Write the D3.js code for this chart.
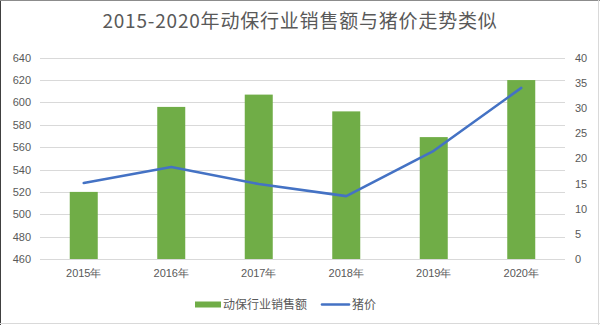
<!DOCTYPE html>
<html>
<head>
<meta charset="utf-8">
<script src="https://cdn.jsdelivr.net/npm/d3@7"></script>
<style>
  html, body { margin: 0; padding: 0; background: #fff; }
  svg { display: block; font-family: "Noto Sans CJK SC", "Noto Sans", sans-serif; }
</style>
</head>
<body>
<svg id="chart" width="600" height="325"></svg>
<script>
// Chart data
const title = "2015-2020年动保行业销售额与猪价走势类似";
const years = ["2015年", "2016年", "2017年", "2018年", "2019年", "2020年"];
const sales = [520, 596, 607, 592, 569, 620];          // 动保行业销售额 (left axis)
const hogPrice = [15.1, 18.3, 14.9, 12.5, 21.5, 34.0]; // 猪价 (right axis)
const leftTicks = [460, 480, 500, 520, 540, 560, 580, 600, 620, 640];
const rightTicks = [0, 5, 10, 15, 20, 25, 30, 35, 40];
const seriesNames = ["动保行业销售额", "猪价"];

const W = 600, H = 325;
const margin = { left: 40, right: 35, top: 57.7, bottom: 66 };
const svg = d3.select("#chart");
const textColor = "#595959";
const gridColor = "#d9d9d9";
const barColor = "#70ad47";
const lineColor = "#4472c4";

// Frame
svg.append("line").attr("x1", 0.5).attr("x2", 0.5).attr("y1", 0).attr("y2", H).attr("stroke", "#404040");
svg.append("line").attr("x1", 0).attr("x2", W).attr("y1", 0.5).attr("y2", 0.5).attr("stroke", "#8c8c8c");
svg.append("line").attr("x1", W - 1.5).attr("x2", W - 1.5).attr("y1", 0).attr("y2", H).attr("stroke", gridColor);
svg.append("line").attr("x1", 0).attr("x2", W).attr("y1", H - 1.5).attr("y2", H - 1.5).attr("stroke", gridColor);

const x = d3.scaleBand().domain(years).range([margin.left, W - margin.right]).paddingInner(0.68).paddingOuter(0.34);
const yL = d3.scaleLinear().domain([460, 640]).range([259, margin.top]);
const yR = d3.scaleLinear().domain([0, 40]).range([259, margin.top]);

// Gridlines
svg.append("g").selectAll("line").data(leftTicks).join("line")
  .attr("x1", margin.left).attr("x2", W - margin.right)
  .attr("y1", d => Math.round(yL(d)) + 0.5).attr("y2", d => Math.round(yL(d)) + 0.5)
  .attr("stroke", gridColor).attr("stroke-width", 1);

// Title
svg.append("text").attr("x", 300).attr("y", 28).attr("text-anchor", "middle")
  .attr("font-size", 19).attr("letter-spacing", 0.8).attr("fill", textColor).text(title);

// Left axis
const axL = svg.append("g").attr("transform", `translate(${margin.left},0)`)
  .call(d3.axisLeft(yL).tickValues(leftTicks).tickSize(0).tickPadding(9));
axL.select(".domain").remove();
axL.selectAll("text").attr("font-size", 11).attr("fill", textColor).attr("font-family", "Liberation Sans, sans-serif");

// Right axis
const axR = svg.append("g").attr("transform", `translate(${W - margin.right},0)`)
  .call(d3.axisRight(yR).tickValues(rightTicks).tickSize(0).tickPadding(10));
axR.select(".domain").remove();
axR.selectAll("text").attr("font-size", 11).attr("fill", textColor).attr("font-family", "Liberation Sans, sans-serif");

// Bars
svg.append("g").selectAll("rect").data(sales).join("rect")
  .attr("x", (d, i) => x(years[i]))
  .attr("width", x.bandwidth())
  .attr("y", d => yL(d))
  .attr("height", d => yL(460) - yL(d))
  .attr("fill", barColor);

// Baseline
svg.append("line").attr("x1", margin.left).attr("x2", W - margin.right)
  .attr("y1", 259.5).attr("y2", 259.5).attr("stroke", gridColor);

// Line series
const line = d3.line().x((d, i) => x(years[i]) + x.bandwidth() / 2).y(d => yR(d));
svg.append("path").datum(hogPrice).attr("d", line)
  .attr("fill", "none").attr("stroke", lineColor).attr("stroke-width", 2.6)
  .attr("stroke-linecap", "round").attr("stroke-linejoin", "round");

// X axis labels
const axX = svg.append("g").attr("transform", `translate(0,259)`)
  .call(d3.axisBottom(x).tickSize(0).tickPadding(10));
axX.select(".domain").remove();
axX.selectAll("text").attr("font-size", 11).attr("fill", textColor);

// Legend
const lg = svg.append("g");
lg.append("rect").attr("x", 195).attr("y", 301.5).attr("width", 26).attr("height", 6).attr("fill", barColor);
lg.append("text").attr("x", 223).attr("y", 309).attr("font-size", 12).attr("fill", textColor).text(seriesNames[0]);
lg.append("line").attr("x1", 322).attr("x2", 349).attr("y1", 304.5).attr("y2", 304.5)
  .attr("stroke", lineColor).attr("stroke-width", 2.6).attr("stroke-linecap", "round");
lg.append("text").attr("x", 352).attr("y", 309).attr("font-size", 12).attr("fill", textColor).text(seriesNames[1]);
</script>
</body>
</html>
